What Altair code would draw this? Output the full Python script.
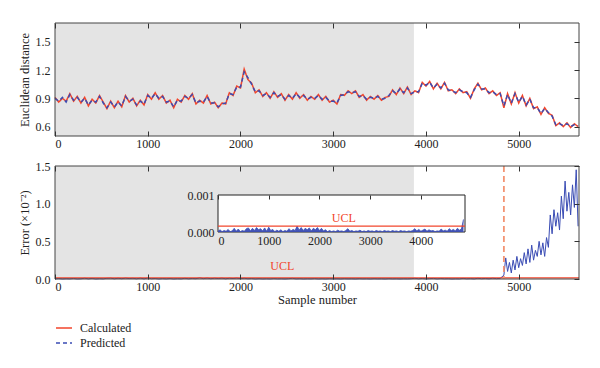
import altair as alt
import pandas as pd

# ---------------- data ----------------
STEP = 40  # sample spacing of the top-panel readings
calculated = [0.91,0.86,0.90,0.87,0.95,0.87,0.92,0.85,0.91,0.82,
 0.89,0.85,0.93,0.86,0.79,0.87,0.80,0.87,0.81,0.93,
 0.86,0.90,0.82,0.88,0.83,0.94,0.89,0.96,0.89,0.93,
 0.85,0.88,0.80,0.89,0.86,0.93,0.89,0.95,0.84,0.88,
 0.85,0.93,0.84,0.86,0.80,0.85,0.84,0.96,0.93,1.03,
 1.01,1.21,1.10,1.06,0.96,0.99,0.92,0.96,0.90,0.97,
 0.91,0.95,0.88,0.94,0.89,0.96,0.90,0.94,0.88,0.92,
 0.89,0.94,0.88,0.92,0.86,0.88,0.84,0.94,0.93,0.98,
 0.95,0.98,0.91,0.94,0.88,0.92,0.89,0.93,0.88,0.91,
 0.92,0.99,0.94,1.01,0.95,1.02,0.94,0.98,0.96,1.07,
 1.03,1.08,1.00,1.06,1.00,1.07,0.98,0.99,0.95,1.00,
 0.96,0.97,0.90,1.00,1.06,0.99,1.01,0.95,0.98,0.93,
 0.96,0.80,0.95,0.84,0.96,0.85,0.93,0.82,0.90,0.79,
 0.81,0.73,0.80,0.74,0.72,0.61,0.64,0.60,0.64,0.59,
 0.63,0.60]
predicted = [0.90,0.87,0.91,0.86,0.94,0.88,0.91,0.86,0.90,0.83,
 0.88,0.86,0.92,0.85,0.80,0.86,0.81,0.86,0.82,0.92,
 0.87,0.89,0.83,0.87,0.84,0.93,0.90,0.95,0.90,0.92,
 0.86,0.87,0.81,0.88,0.87,0.92,0.90,0.94,0.85,0.87,
 0.86,0.92,0.85,0.85,0.81,0.84,0.85,0.95,0.94,1.02,
 1.02,1.18,1.12,1.05,0.97,0.98,0.93,0.95,0.91,0.96,
 0.92,0.94,0.89,0.93,0.90,0.95,0.91,0.93,0.89,0.91,
 0.90,0.93,0.89,0.91,0.87,0.87,0.85,0.93,0.94,0.97,
 0.96,0.97,0.92,0.93,0.89,0.91,0.90,0.92,0.89,0.90,
 0.93,0.98,0.95,1.00,0.96,1.01,0.95,0.97,0.97,1.06,
 1.04,1.07,1.01,1.05,1.01,1.06,0.99,0.98,0.96,0.99,
 0.97,0.96,0.91,0.99,1.05,1.00,1.00,0.96,0.97,0.94,
 0.95,0.82,0.94,0.85,0.95,0.86,0.92,0.83,0.89,0.80,
 0.80,0.74,0.79,0.75,0.71,0.62,0.63,0.61,0.63,0.60,
 0.62,0.61]

# normal-operation error (inset), in units of 1e-5, every 40 samples from 0 to 4840
inset_err_e5 = [2,6,1,4,2,7,1,3,10,2,
 8,1,4,2,9,11,3,10,4,12,
 6,9,3,11,2,13,4,7,1,5,
 2,6,1,4,2,9,3,7,4,16,
 5,12,4,10,6,11,3,10,6,12,
 4,10,3,6,1,4,1,3,1,5,
 2,3,1,4,9,2,4,1,3,2,
 5,1,3,1,4,2,3,1,4,2,
 3,1,4,2,3,1,4,2,3,1,
 4,2,3,1,3,2,4,9,3,7,
 2,5,8,2,6,3,4,1,3,2,
 8,3,5,2,9,4,7,3,10,5,
 8,34]

# fault error (x10^-2), every 20 samples from 4840 to 5640
FAULT_START = 4840
FAULT_STEP = 20
fault_err = [0.05,0.28,0.10,0.22,0.08,0.25,0.12,0.30,0.15,0.27,
 0.18,0.35,0.20,0.40,0.22,0.45,0.25,0.38,0.30,0.50,
 0.32,0.48,0.30,0.55,0.42,0.85,0.60,0.92,0.70,0.88,
 0.65,1.10,0.80,1.30,0.90,1.15,0.85,1.25,0.95,1.45,
 0.70]

x_ticks = [0, 1000, 2000, 3000, 4000, 5000]
top_y_ticks = [0.6, 0.9, 1.2, 1.5]
bot_y_ticks = [0.0, 0.5, 1.0, 1.5]
inset_x_ticks = [0, 1000, 2000, 3000, 4000]
inset_y_ticks = [0.0, 0.001]
X_MAX = 5650
TRAIN_END = 3870
UCL = 0.00016
INSET_X_MAX = 4870
series_names = ["Calculated", "Predicted"]

# ---------------- styles ----------------
FONT = "Liberation Serif"
RED = "#f2462c"
BLUE = "#3a4cb4"
GRAY = "#e4e4e4"
FRAME = "#444444"
W, H = 524, 113

# ---------------- tables ----------------
top_df = pd.DataFrame({
    "sample": [i * STEP for i in range(len(calculated))] * 2,
    "value": calculated + predicted,
    "series": [series_names[0]] * len(calculated) + [series_names[1]] * len(predicted),
})
normal_samples = [i * STEP for i in range(len(inset_err_e5))]
inset_df = pd.DataFrame({"sample": normal_samples, "err": [v * 1e-5 for v in inset_err_e5]})
main_err_df = pd.DataFrame({
    "sample": normal_samples[:-1] + [FAULT_START + i * FAULT_STEP for i in range(len(fault_err))],
    "err": [v * 1e-3 for v in inset_err_e5[:-1]] + fault_err,
})

xs = alt.Scale(domain=[0, X_MAX], nice=False, zero=False)
ys_top = alt.Scale(domain=[0.5, 1.7], nice=False, zero=False)
ys_bot = alt.Scale(domain=[0, 1.5], nice=False)

def frame_layer(ymin, ymax, yscale, yticks):
    df = pd.DataFrame({"x0": [0], "x1": [X_MAX], "y0": [ymin], "y1": [ymax]})
    return alt.Chart(df).mark_rect(filled=False, stroke=FRAME, strokeWidth=1).encode(
        x=alt.X("x0:Q", scale=xs, axis=alt.Axis(orient="top", offset=-5, tickSize=5, labels=False,
                                               domain=False, values=x_ticks, title=None, zindex=2)),
        x2="x1:Q",
        y=alt.Y("y0:Q", scale=yscale, axis=alt.Axis(orient="right", offset=-5, tickSize=5, labels=False,
                                                   domain=False, values=yticks, title=None, zindex=2)),
        y2="y1:Q",
    )

def bg_layer(ymin, ymax, yscale):
    df = pd.DataFrame({"x0": [0], "x1": [TRAIN_END], "y0": [ymin], "y1": [ymax]})
    return alt.Chart(df).mark_rect(color=GRAY).encode(
        x=alt.X("x0:Q", scale=xs, axis=None), x2="x1:Q",
        y=alt.Y("y0:Q", scale=yscale, axis=None), y2="y1:Q",
    )

legend_kw = dict(title=None, orient="none", legendX=0, legendY=296,
                 symbolType="stroke", symbolSize=256, symbolStrokeWidth=1.5,
                 labelFont=FONT, labelFontSize=12, labelColor="#222",
                 rowPadding=0, labelOffset=7)

# ---------------- top panel ----------------
top_lines = alt.Chart(top_df).mark_line(strokeWidth=1.5).encode(
    x=alt.X("sample:Q", scale=xs, axis=alt.Axis(orient="bottom", offset=-5, tickSize=5, labelPadding=2,
                                               domain=False, values=x_ticks, format="d", title=None, zindex=2)),
    y=alt.Y("value:Q", scale=ys_top, axis=alt.Axis(orient="left", ticks=False, domain=False,
                                                  values=top_y_ticks, format=".1f",
                                                  title="Euclidean distance", labelPadding=5)),
    color=alt.Color("series:N", scale=alt.Scale(domain=series_names, range=[RED, BLUE]),
                    legend=alt.Legend(**legend_kw)),
    strokeDash=alt.StrokeDash("series:N", scale=alt.Scale(domain=series_names, range=[[1, 0], [4, 3]]),
                              legend=alt.Legend(**legend_kw)),
)

top = alt.layer(
    bg_layer(0.5, 1.7, ys_top), top_lines, frame_layer(0.5, 1.7, ys_top, top_y_ticks)
).resolve_axis(x="independent", y="independent").properties(width=W, height=H)

# ---------------- bottom panel ----------------
bot_line = alt.Chart(main_err_df).mark_line(color=BLUE, strokeWidth=1).encode(
    x=alt.X("sample:Q", scale=xs, axis=alt.Axis(orient="bottom", offset=-5, tickSize=5, labelPadding=2,
                                               domain=False, values=x_ticks, format="d",
                                               title="Sample number", titlePadding=1, zindex=2)),
    y=alt.Y("err:Q", scale=ys_bot, axis=alt.Axis(orient="left", ticks=False, domain=False,
                                                values=bot_y_ticks, format=".1f",
                                                title="Error (×10⁻²)", labelPadding=5)),
)
ucl_main = alt.Chart(pd.DataFrame({"ucl": [UCL * 100]})).mark_rule(color=RED, strokeWidth=1.3).encode(
    y=alt.Y("ucl:Q", scale=ys_bot, axis=None))
fault_rule = alt.Chart(pd.DataFrame({"s": [FAULT_START]})).mark_rule(
    color="#f39473", strokeWidth=1.8, strokeDash=[6, 4]).encode(x=alt.X("s:Q", scale=xs, axis=None))
ucl_text_main = alt.Chart(pd.DataFrame({"s": [2450], "v": [0.17], "t": ["UCL"]})).mark_text(
    color=RED, font=FONT, fontSize=12).encode(
    x=alt.X("s:Q", scale=xs, axis=None), y=alt.Y("v:Q", scale=ys_bot, axis=None), text="t:N")

main_group = alt.layer(
    bg_layer(0, 1.5, ys_bot), bot_line, ucl_main, fault_rule, ucl_text_main,
    frame_layer(0, 1.5, ys_bot, bot_y_ticks)
).resolve_axis(x="independent", y="independent")

# ---------------- inset ----------------
ixs = alt.Scale(domain=[0, INSET_X_MAX], range=[163, 410], nice=False, zero=False)
iys = alt.Scale(domain=[0, 0.001], range=[66, 29], nice=False)

inset_box = alt.Chart(pd.DataFrame({"x0": [0], "x1": [INSET_X_MAX], "y0": [0.0], "y1": [0.001]})).mark_rect(
    fill="white", stroke="#222", strokeWidth=1).encode(
    x=alt.X("x0:Q", scale=ixs, axis=alt.Axis(orient="top", offset=-33, tickSize=4, labels=False,
                                             domain=False, values=inset_x_ticks, title=None, zindex=3)),
    x2="x1:Q",
    y=alt.Y("y0:Q", scale=iys, axis=None), y2="y1:Q",
)
inset_area = alt.Chart(inset_df).mark_area(color=BLUE, opacity=0.95, line={"color": BLUE, "strokeWidth": 0.8}).encode(
    x=alt.X("sample:Q", scale=ixs, axis=alt.Axis(orient="bottom", offset=-47, ticks=False, domain=False,
                                                values=inset_x_ticks, format="d", title=None,
                                                labelPadding=3, zindex=3)),
    y=alt.Y("err:Q", scale=iys, axis=alt.Axis(orient="left", offset=-163, ticks=False, domain=False,
                                             values=inset_y_ticks, format=".3f", title=None,
                                             labelPadding=4, zindex=3)),
)
inset_ucl = alt.Chart(pd.DataFrame({"x0": [0], "x1": [INSET_X_MAX], "u": [UCL]})).mark_rule(
    color=RED, strokeWidth=1.2).encode(
    x=alt.X("x0:Q", scale=ixs, axis=None), x2="x1:Q", y=alt.Y("u:Q", scale=iys, axis=None))
inset_text = alt.Chart(pd.DataFrame({"s": [2480], "v": [0.00038], "t": ["UCL"]})).mark_text(
    color=RED, font=FONT, fontSize=12).encode(
    x=alt.X("s:Q", scale=ixs, axis=None), y=alt.Y("v:Q", scale=iys, axis=None), text="t:N")

inset_group = alt.layer(inset_box, inset_area, inset_ucl, inset_text).resolve_axis(x="independent", y="independent")

bottom = alt.layer(main_group, inset_group).resolve_scale(
    x="independent", y="independent").resolve_axis(x="independent", y="independent").properties(width=W, height=H)

chart = alt.vconcat(top, bottom, spacing=11).properties(
    padding={"left": 10, "top": 14, "right": 10, "bottom": 4}, background="white"
).configure_view(stroke=None).configure_axis(
    labelFont=FONT, titleFont=FONT, labelFontSize=12, titleFontSize=12.5, titleFontWeight="normal",
    labelColor="#222", titleColor="#222", tickColor="#333", grid=False
)

chart.save("out.html", embed_options={"renderer": "svg", "actions": False})
